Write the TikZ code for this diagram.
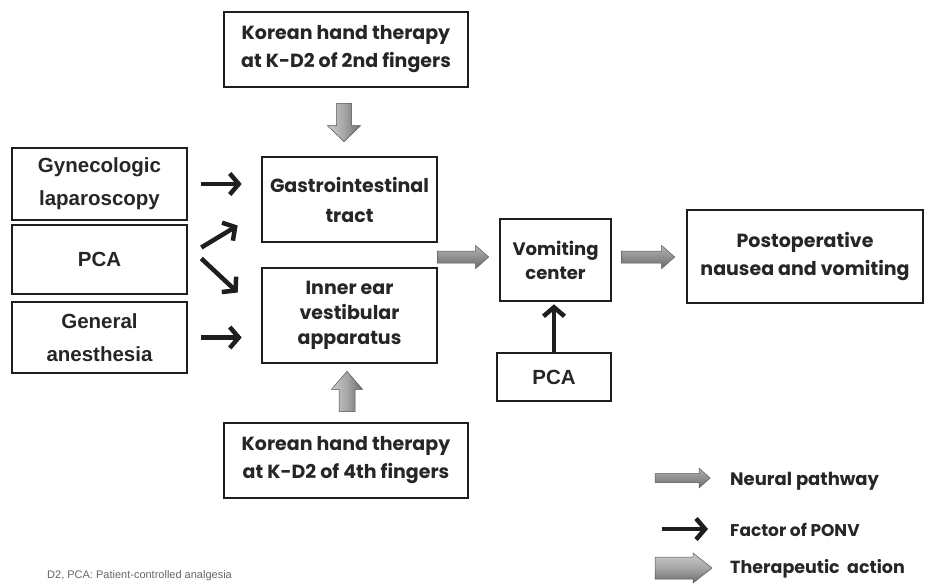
\documentclass[tikz,border=0pt]{standalone}
\usepackage{fontspec}
\setmainfont{Liberation Sans}
\newfontfamily\geo{Poppins}
\newfontfamily\arl{Liberation Sans}
\usetikzlibrary{arrows.meta,calc}
\definecolor{ink}{HTML}{1E1E1E}
\definecolor{txt}{HTML}{262626}
% horizontal fat arrow: start, tip, shaft half, head half, head length, style
\newcommand\harrow[6]{%
  \shade[#6] ($#1+(0,-#3)$) -- ($#2+(-#5,-#3)$) -- ($#2+(-#5,-#4)$) -- #2
    -- ($#2+(-#5,#4)$) -- ($#2+(-#5,#3)$) -- ($#1+(0,#3)$) -- cycle;}
% vertical fat arrow: start, tip, shaft half, head half, signed head offset, style
\newcommand\varrow[6]{%
  \shade[#6] ($#1+(-#3,0)$) -- ($#2+(-#3,#5)$) -- ($#2+(-#4,#5)$) -- #2
    -- ($#2+(#4,#5)$) -- ($#2+(#3,#5)$) -- ($#1+(#3,0)$) -- cycle;}
\begin{document}
\begin{tikzpicture}[x=1pt,y=-1pt,
  box/.style={draw=ink, line width=2.6pt, inner sep=0pt, text=txt, align=center},
  geobox/.style={box, font=\geo\bfseries\fontsize{19}{28}\selectfont},
  arlbox/.style={box, font=\arl\bfseries\fontsize{20.5}{33}\selectfont},
  fac/.style={draw=ink, line width=4.5pt, -{Straight Barb[length=9pt,width=21pt]}},
  neural/.style={top color=gray!60, middle color=white!92!gray, bottom color=gray!85!black, draw=gray!70!black, line width=0.5pt},
  thervert/.style={left color=gray!40, right color=gray!85!black, middle color=gray!70, draw=gray!65!black, line width=0.5pt},
  therhor/.style={top color=gray!40, bottom color=gray!85!black, middle color=gray!70, draw=gray!65!black, line width=0.5pt},
  legtext/.style={anchor=west, inner sep=0pt, text=txt, font=\geo\bfseries\fontsize{18}{20}\selectfont},
]
\fill[white] (0,0) rectangle (925,582);
\useasboundingbox (0,0) rectangle (925,582);

% boxes
\node[geobox, minimum width=244, minimum height=75] (top) at (346,49.5)
  {Korean hand therapy\\at K-D2 of 2nd fingers};
\node[arlbox, minimum width=175, minimum height=72] (gyn) at (99.5,184)
  {Gynecologic\\laparoscopy};
\node[arlbox, minimum width=175, minimum height=69] (pcaA) at (99.5,259.5) {PCA};
\node[arlbox, minimum width=175, minimum height=71] (gen) at (99.5,337.5)
  {General\\anesthesia};
\node[geobox, font=\geo\bfseries\fontsize{19}{30}\selectfont, minimum width=175, minimum height=85] (gastro) at (349.5,199.5)
  {Gastrointestinal\\tract};
\node[geobox, font=\geo\bfseries\fontsize{19}{25}\selectfont, minimum width=175, minimum height=95] (inner) at (349.5,315.5)
  {Inner ear\\vestibular\\apparatus};
\node[geobox, font=\geo\bfseries\fontsize{18}{24}\selectfont, minimum width=111, minimum height=82] (vc) at (555.5,260)
  {Vomiting\\center};
\node[geobox, minimum width=236, minimum height=93] (post) at (805,256.5)
  {Postoperative\\nausea and vomiting};
\node[arlbox, minimum width=114, minimum height=48] (pcaB) at (554,377) {PCA};
\node[geobox, minimum width=244, minimum height=75] (bot) at (346,460.5)
  {Korean hand therapy\\at K-D2 of 4th fingers};

% factor arrows
\draw[fac] ($(gyn.east)+(13,0)$) -- ($(gyn.east -| gastro.west)+(-19,0)$);
\draw[fac] ($(pcaA.east)+(13,-12)$) -- ($(gastro.west |- pcaA.east)+(-23,-34)$);
\draw[fac] ($(pcaA.east)+(13,-1)$) -- ($(inner.west |- pcaA.east)+(-23,33)$);
\draw[fac] ($(gen.east)+(13,0)$) -- ($(gen.east -| inner.west)+(-19,0)$);
\draw[fac] (pcaB.north) -- ($(pcaB.north |- vc.south)+(0,2)$);

% neural pathway arrows
\coordinate (n1s) at ($(gastro.east |- vc.west)+(-1,-3)$);
\coordinate (n1e) at ($(vc.west)+(-10,-3)$);
\harrow{(n1s)}{(n1e)}{6}{11.5}{13}{neural}
\coordinate (n2s) at ($(vc.east)+(9,-3)$);
\coordinate (n2e) at ($(vc.east -| post.west)+(-11,-3)$);
\harrow{(n2s)}{(n2e)}{6}{11.5}{13}{neural}

% therapeutic arrows
\coordinate (t1s) at ($(top.south)+(-2,15)$);
\coordinate (t1e) at ($(top.south |- gastro.north)+(-2,-14)$);
\varrow{(t1s)}{(t1e)}{7.5}{16.5}{-16}{thervert}
\coordinate (t2s) at ($(bot.north)+(1,-10)$);
\coordinate (t2e) at ($(bot.north |- inner.south)+(1,7)$);
\varrow{(t2s)}{(t2e)}{8}{15.5}{18}{thervert}

% legend
\coordinate (l1s) at (655,478);
\coordinate (l1e) at (710,478);
\harrow{(l1s)}{(l1e)}{4.5}{10}{11}{neural}
\node[legtext] (l1t) at (730,481) {Neural pathway};
\coordinate (l2s) at (662,529);
\coordinate (l2e) at (708,529);
\draw[fac] (l2s) -- (l2e);
\node[legtext, font=\geo\bfseries\fontsize{17}{20}\selectfont] (l2t) at (730,530) {Factor of PONV};
\coordinate (l3s) at (655,568);
\coordinate (l3e) at (712,568);
\harrow{(l3s)}{(l3e)}{11}{15}{19}{therhor}
\node[legtext, font=\geo\bfseries\fontsize{17.5}{20}\selectfont] (l3t) at (730,569) {Therapeutic\ \ action};

% footnote at the bottom edge
\node[anchor=base west, inner sep=0pt, text=gray!80!black, font=\arl\fontsize{11}{13}\selectfont] (foot) at (47,578)
  {D2, PCA: Patient-controlled analgesia};
\end{tikzpicture}
\end{document}
